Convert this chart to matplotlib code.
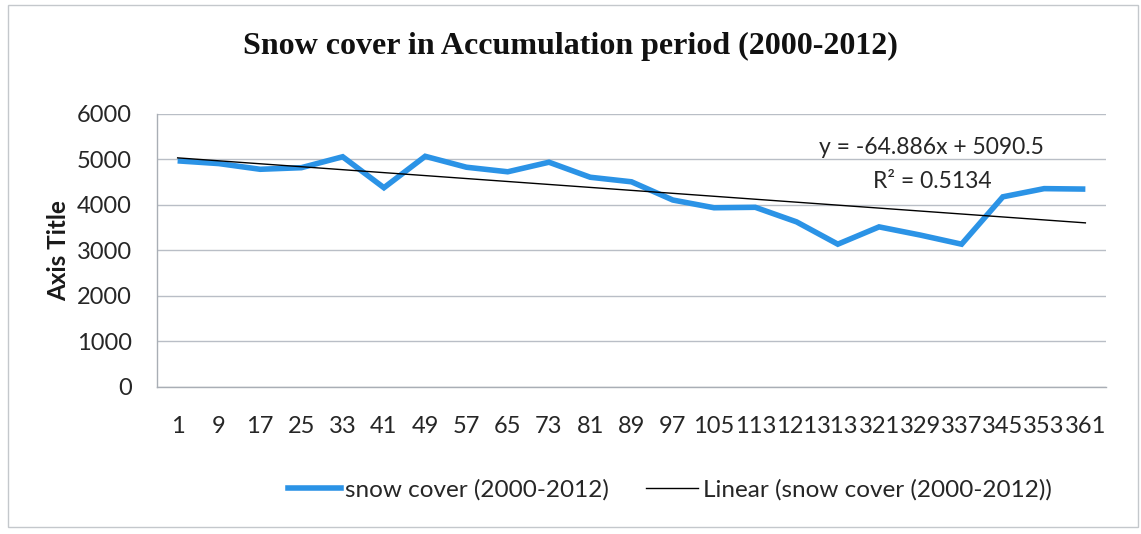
import matplotlib
matplotlib.use("Agg")
import matplotlib.pyplot as plt
from matplotlib.patches import Rectangle
from matplotlib.lines import Line2D

# 8-day composite start days (accumulation period)
days = ["1", "9", "17", "25", "33", "41", "49", "57", "65", "73", "81", "89",
        "97", "105", "113", "121", "313", "321", "329", "337", "345", "353", "361"]
snow_cover = [4960, 4900, 4775, 4810, 5050, 4370, 5060, 4820, 4720, 4930, 4600,
              4500, 4100, 3930, 3940, 3620, 3130, 3510, 3330, 3130, 4170, 4350, 4340]
trend_slope = -64.886
trend_intercept = 5090.5
trend_r2 = 0.5134
y_ticks = [0, 1000, 2000, 3000, 4000, 5000, 6000]

W, H = 1141, 534
fig = plt.figure(figsize=(W / 100, H / 100), dpi=100)
fig.patch.set_facecolor("white")

# chart frame
fig.patches.append(Rectangle((8 / W, 1 - 527 / H), 1130 / W, 522 / H,
                             transform=fig.transFigure, fill=False,
                             edgecolor="#c4c8cc", linewidth=1.0))

left, right, top, bottom = 157, 1106, 113.5, 386.7
ax = fig.add_axes([left / W, 1 - bottom / H, (right - left) / W, (bottom - top) / H])

x = list(range(len(days)))
ax.plot(x, snow_cover, color="#2b93e6", linewidth=4.0, solid_capstyle="butt",
        solid_joinstyle="miter", zorder=3)

trend = [trend_slope * (i + 1) + trend_intercept for i in x]
ax.plot(x, trend, color="black", linewidth=1.0, zorder=4)

ax.set_xlim(-0.5, len(days) - 0.5)
ax.set_ylim(0, 6000)
ax.set_yticks(y_ticks)
ax.set_yticklabels([str(v) for v in y_ticks])
ax.set_xticks(x)
ax.set_xticklabels(days)

txt_color = "#262626"
for lab in ax.get_yticklabels() + ax.get_xticklabels():
    lab.set_fontfamily("Lato")
    lab.set_fontsize(17)
    lab.set_color(txt_color)
ax.tick_params(axis="both", length=0)
ax.tick_params(axis="y", pad=18)
ax.tick_params(axis="x", pad=21)

ax.grid(axis="y", color="#b9bec6", linewidth=1.0)
ax.set_axisbelow(True)
for side in ("top", "right"):
    ax.spines[side].set_visible(False)
for side in ("left", "bottom"):
    ax.spines[side].set_color("#a9aeb5")
    ax.spines[side].set_linewidth(1.0)

ax.set_ylabel("Axis Title", family="Lato", fontweight="bold", fontsize=17.5,
              color="#1a1a1a", labelpad=5)

fig.text(570 / W, 1 - 46 / H, "Snow cover in Accumulation period (2000-2012)",
         family="Liberation Serif", fontweight="bold", fontsize=23,
         ha="center", va="center", color="#111111")

fig.text(931 / W, 1 - 148 / H, f"y = {trend_slope}x + {trend_intercept}",
         family="Lato", fontsize=16.5, ha="center", va="center", color=txt_color)
fig.text(932 / W, 1 - 182 / H, f"R\u00b2 = {trend_r2}",
         family="Lato", fontsize=16.5, ha="center", va="center", color=txt_color)

handles = [Line2D([], [], color="#2b93e6", linewidth=4.0),
           Line2D([], [], color="black", linewidth=1.0)]
labels = ["snow cover (2000-2012)", "Linear (snow cover (2000-2012))"]
fig.legend(handles, labels, loc="center", bbox_to_anchor=(670 / W, 1 - 490 / H),
           ncol=2, frameon=False, prop=dict(family="Lato", size=17.5),
           handlelength=2.15, handletextpad=0.2, columnspacing=1.5,
           labelcolor=txt_color)

fig.savefig("out.png", dpi=100, facecolor="white")
